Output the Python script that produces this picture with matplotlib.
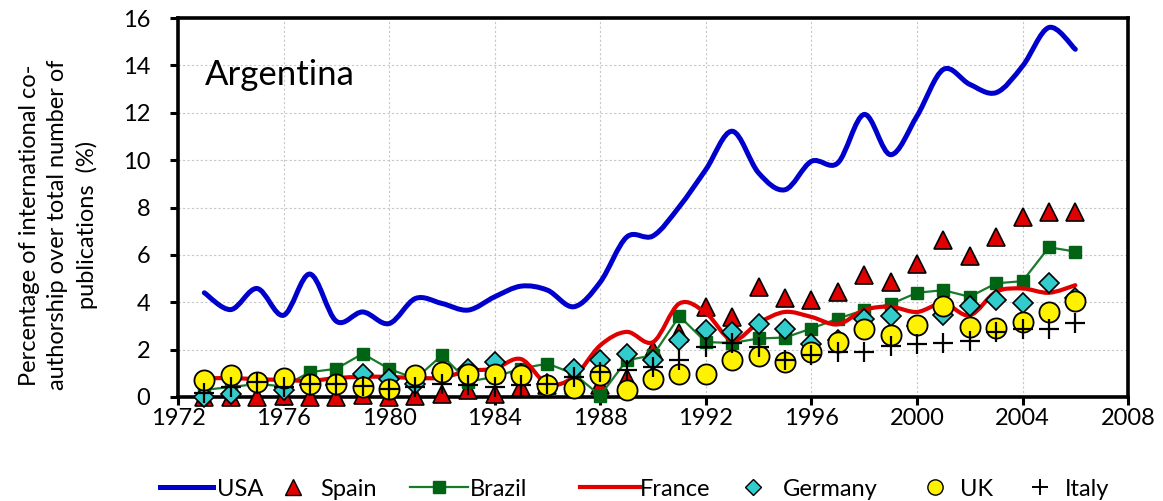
import numpy as np
import matplotlib
matplotlib.use("Agg")
import matplotlib.pyplot as plt
from matplotlib.path import Path
from matplotlib.patches import PathPatch
from matplotlib.lines import Line2D

plt.rcParams["font.family"] = ["Lato", "DejaVu Sans"]

# ---- data -----------------------------------------------------------------
years = list(range(1973, 2007))

usa = [4.40, 3.69, 4.58, 3.45, 5.19, 3.20, 3.59, 3.10, 4.16, 3.95, 3.67, 4.23,
       4.68, 4.51, 3.81, 4.85, 6.75, 6.80, 8.04, 9.60, 11.22, 9.46, 8.75, 9.95,
       9.88, 11.93, 10.23, 11.86, 13.83, 13.20, 12.85, 13.97, 15.60, 14.68]
spain = [0.0, 0.0, 0.0, 0.04, 0.02, 0.02, 0.10, 0.0, 0.06, 0.13, 0.28, 0.13,
         0.42, 0.50, 0.50, 0.49, 0.80, 2.00, 2.70, 3.78, 3.38, 4.63, 4.16, 4.09,
         4.44, 5.15, 4.87, 5.61, 6.63, 5.95, 6.77, 7.59, 7.83, 7.80]
brazil = [0.30, 0.42, 0.55, 0.45, 1.05, 1.19, 1.83, 1.19, 0.77, 1.76, 0.65, 0.85,
          1.20, 1.41, 0.98, 0.06, 1.55, 1.76, 3.41, 2.32, 2.28, 2.47, 2.51, 2.89,
          3.31, 3.67, 3.92, 4.40, 4.51, 4.23, 4.80, 4.89, 6.32, 6.14]
france = [0.78, 0.80, 0.75, 0.72, 0.68, 0.80, 0.85, 0.85, 0.80, 0.82, 1.10, 1.20,
          1.60, 0.55, 0.85, 2.18, 2.75, 2.32, 3.95, 3.55, 2.40, 3.13, 3.59, 3.38,
          3.07, 3.67, 3.81, 3.59, 3.95, 3.45, 4.44, 4.58, 4.40, 4.72]
germany = [0.0, 0.13, 0.60, 0.28, 0.50, 0.50, 0.98, 0.77, 0.55, 1.00, 1.19, 1.47,
           0.95, 0.55, 1.19, 1.58, 1.83, 1.58, 2.42, 2.82, 2.75, 3.07, 2.89, 2.25,
           2.40, 3.31, 3.42, 3.00, 3.45, 3.83, 4.09, 3.95, 4.82, 4.20]
uk = [0.73, 0.91, 0.63, 0.80, 0.56, 0.56, 0.42, 0.35, 0.91, 1.05, 0.98, 0.98,
      0.92, 0.50, 0.38, 0.91, 0.28, 0.77, 0.98, 0.95, 1.55, 1.72, 1.47, 1.90,
      2.32, 2.89, 2.60, 3.03, 3.83, 2.96, 2.93, 3.17, 3.59, 4.06]
italy = [0.15, 0.42, 0.63, 0.42, 0.56, 0.56, 0.45, 0.35, 0.42, 0.56, 0.49, 0.42,
         0.49, 0.56, 0.84, 1.05, 1.12, 1.26, 1.58, 2.11, 2.28, 2.11, 1.55, 1.76,
         1.90, 1.90, 2.14, 2.25, 2.28, 2.36, 2.75, 2.86, 2.86, 3.13]

labels = ["USA", "Spain", "Brazil", "France", "Germany", "UK", "Italy"]
x_ticks = list(range(1972, 2009, 4))
y_ticks = list(range(0, 17, 2))

# ---- style ----------------------------------------------------------------
W, H = 1163, 501
BLUE = "#0000CC"
RED = "#E00000"
GREEN = "#006414"
GREEN_LINE = "#1A7A2A"
CYAN = "#33CCCC"
YELLOW = "#FFF200"


def smooth_path(x, y):
    # Excel-like smoothed line: cubic Bezier through every point
    pts = np.column_stack([x, y]).astype(float)
    n = len(pts)
    verts = [pts[0]]
    codes = [Path.MOVETO]
    for i in range(n - 1):
        p0 = pts[max(i - 1, 0)]
        p1 = pts[i]
        p2 = pts[i + 1]
        p3 = pts[min(i + 2, n - 1)]
        verts += [p1 + (p2 - p0) / 6.0, p2 - (p3 - p1) / 6.0, p2]
        codes += [Path.CURVE4] * 3
    return Path(verts, codes)


fig = plt.figure(figsize=(W / 100, H / 100), dpi=100, facecolor="white")
ax = fig.add_axes([0.153, 0.2076, 0.817, 0.7564])

ax.set_xlim(1972, 2008)
ax.set_ylim(0, 16)
ax.set_xticks(x_ticks)
ax.set_yticks(y_ticks)
ax.grid(True, color="#c8c8c8", linestyle=(0, (2, 2)), linewidth=0.8)
ax.set_axisbelow(True)

for s in ax.spines.values():
    s.set_linewidth(2.6)
    s.set_color("black")
ax.tick_params(axis="both", direction="out", length=6, width=2.2,
               labelsize=17, colors="black")
ax.tick_params(axis="y", pad=14)
ax.tick_params(axis="x", pad=2)

# USA smooth line
ax.add_patch(PathPatch(smooth_path(years, usa), fill=False, ec=BLUE, lw=3.6,
                       capstyle="round", joinstyle="round", zorder=3))
# Spain triangles
ax.plot(years, spain, ls="none", marker="^", ms=13, mfc=RED, mec="black",
        mew=1.2, clip_on=False, zorder=4)
# Brazil squares with line
ax.plot(years, brazil, ls="-", color=GREEN_LINE, lw=1.6, marker="s", ms=9,
        mfc=GREEN, mec=GREEN, clip_on=False, zorder=5)
# France smooth line
ax.add_patch(PathPatch(smooth_path(years, france), fill=False, ec=RED, lw=3.0,
                       capstyle="round", joinstyle="round", zorder=6))
# Germany diamonds
ax.plot(years, germany, ls="none", marker="D", ms=10, mfc=CYAN, mec="black",
        mew=1.2, clip_on=False, zorder=7)
# UK circles
ax.plot(years, uk, ls="none", marker="o", ms=14.5, mfc=YELLOW, mec="black",
        mew=1.3, clip_on=False, zorder=8)
# Italy plus
ax.plot(years, italy, ls="none", marker="+", ms=14, mec="black", mew=1.6,
        clip_on=False, zorder=9)

ax.text(0.028, 0.85, "Argentina", transform=ax.transAxes, fontsize=25,
        ha="left", va="center")

fig.text(0.050, 0.551,
         "Percentage of international co-\nauthorship over total number of\npublications  (%)",
         rotation=90, ha="center", va="center", multialignment="center",
         fontsize=17, linespacing=1.42)

# ---- legend, laid out by hand (pixel positions like the Excel legend) -----
ly = 1 - 487 / H
styles = [
    dict(kind="line", x0=160, x1=213, color=BLUE, lw=3.6),
    dict(kind="mark", xc=293, marker="^", ms=11, mfc=RED, mec="black", mew=1.0),
    dict(kind="line", x0=410, x1=468, color=GREEN_LINE, lw=1.6, marker="s",
         ms=8, mfc=GREEN, mec=GREEN),
    dict(kind="line", x0=580, x1=640, color=RED, lw=3.0),
    dict(kind="mark", xc=753, marker="D", ms=8, mfc=CYAN, mec="black", mew=1.0),
    dict(kind="mark", xc=935, marker="o", ms=11, mfc=YELLOW, mec="black", mew=1.0),
    dict(kind="mark", xc=1040, marker="+", ms=12, mfc="black", mec="black", mew=1.4),
]
text_x = [217, 320, 470, 640, 783, 960, 1065]
for st, lab, tx in zip(styles, labels, text_x):
    if st["kind"] == "line":
        xs = [st["x0"] / W, st["x1"] / W]
        kw = dict(color=st["color"], lw=st["lw"])
        if "marker" in st:
            kw.update(marker=st["marker"], ms=st["ms"], mfc=st["mfc"],
                      mec=st["mec"], markevery=[1])
            xs = [st["x0"] / W, (st["x0"] + st["x1"]) / 2 / W, st["x1"] / W]
        fig.add_artist(Line2D(xs, [ly] * len(xs), transform=fig.transFigure, **kw))
    else:
        fig.add_artist(Line2D([st["xc"] / W], [ly], transform=fig.transFigure,
                              ls="none", marker=st["marker"], ms=st["ms"],
                              mfc=st["mfc"], mec=st["mec"], mew=st["mew"]))
    fig.text(tx / W, ly, lab, fontsize=17, ha="left", va="center_baseline")

fig.savefig("out.png", dpi=100, facecolor="white")
